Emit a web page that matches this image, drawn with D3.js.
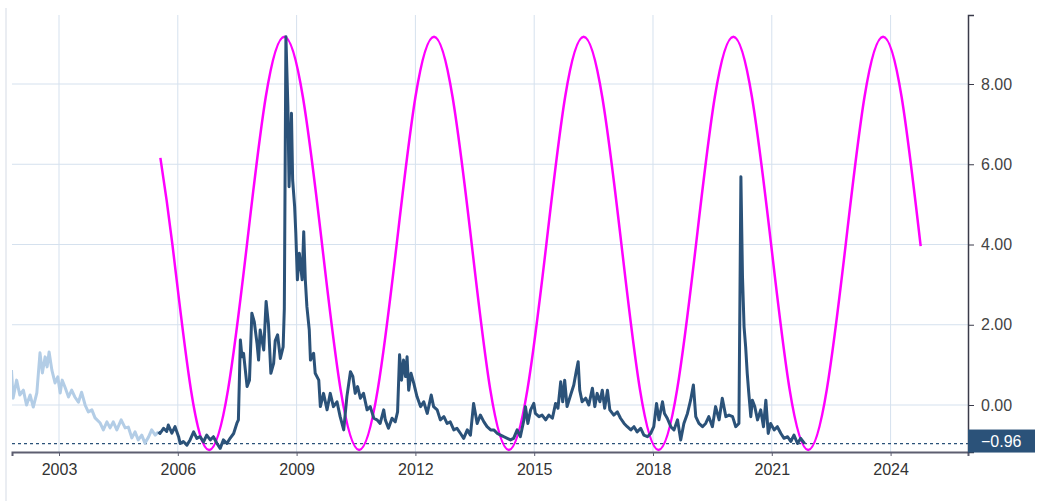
<!DOCTYPE html>
<html>
<head>
<meta charset="utf-8">
<script src="https://cdn.jsdelivr.net/npm/d3@7"></script>
<style>
    body { margin: 0; background: #fff; }
    svg { display: block; font-family: "Liberation Sans", Arial, sans-serif; }
</style>
</head>
<body>
<svg id="chart" width="1037" height="501"></svg>
<script>
var LAST_VALUE = -0.96;

// decimal years, for the x axis
var yearTicks = [2003, 2006, 2009, 2012, 2015, 2018, 2021, 2024];
var valueTicks = [0, 2, 4, 6, 8];

// older part of the index, drawn pale
var earlyDates = [2001.80, 2001.84, 2001.93, 2002.01, 2002.10, 2002.18, 2002.27, 2002.35, 2002.44, 2002.52,
    2002.58, 2002.65, 2002.70, 2002.75, 2002.82, 2002.90, 2002.97, 2003.03, 2003.08, 2003.15,
    2003.24, 2003.32, 2003.40, 2003.49, 2003.57, 2003.66, 2003.74, 2003.83, 2003.91, 2004.04,
    2004.12, 2004.21, 2004.29, 2004.37, 2004.46, 2004.57, 2004.67, 2004.75, 2004.84, 2004.92,
    2005.00, 2005.09, 2005.17, 2005.26, 2005.34, 2005.43, 2005.51];
var earlyValues = [0.87, 0.17, 0.62, 0.25, 0.37, 0.00, 0.25, -0.05, 0.30, 1.30,
    0.80, 1.20, 0.95, 1.32, 0.87, 0.55, 0.70, 0.30, 0.62, 0.45,
    0.20, 0.37, 0.20, 0.07, 0.32, 0.00, -0.17, -0.12, -0.32, -0.45,
    -0.62, -0.42, -0.57, -0.42, -0.62, -0.37, -0.57, -0.55, -0.82, -0.67,
    -0.87, -0.75, -0.95, -0.80, -0.62, -0.75, -0.67];

// main stress index series
var stressDates = [2005.51, 2005.55, 2005.64, 2005.72, 2005.76, 2005.85, 2005.93, 2006.02, 2006.06, 2006.14,
    2006.23, 2006.31, 2006.40, 2006.48, 2006.56, 2006.65, 2006.73, 2006.82, 2006.90, 2006.99,
    2007.07, 2007.15, 2007.24, 2007.32, 2007.41, 2007.49, 2007.53, 2007.58, 2007.62, 2007.66,
    2007.75, 2007.81, 2007.87, 2007.93, 2008.00, 2008.04, 2008.08, 2008.17, 2008.23, 2008.29,
    2008.35, 2008.42, 2008.46, 2008.52, 2008.59, 2008.66, 2008.69, 2008.73, 2008.78, 2008.81,
    2008.87, 2008.90, 2008.95, 2008.98, 2009.02, 2009.07, 2009.14, 2009.18, 2009.22, 2009.26,
    2009.32, 2009.35, 2009.43, 2009.47, 2009.56, 2009.60, 2009.68, 2009.77, 2009.85, 2009.93,
    2010.02, 2010.10, 2010.19, 2010.27, 2010.36, 2010.42, 2010.48, 2010.54, 2010.61, 2010.69,
    2010.78, 2010.86, 2010.95, 2011.03, 2011.11, 2011.20, 2011.24, 2011.32, 2011.41, 2011.49,
    2011.55, 2011.60, 2011.65, 2011.70, 2011.75, 2011.79, 2011.83, 2011.89, 2011.96, 2012.04,
    2012.13, 2012.21, 2012.30, 2012.40, 2012.46, 2012.55, 2012.63, 2012.72, 2012.80, 2012.88,
    2012.97, 2013.05, 2013.14, 2013.22, 2013.31, 2013.39, 2013.47, 2013.56, 2013.64, 2013.73,
    2013.81, 2013.90, 2013.98, 2014.07, 2014.15, 2014.23, 2014.32, 2014.40, 2014.48, 2014.57,
    2014.65, 2014.74, 2014.78, 2014.84, 2014.91, 2014.99, 2015.03, 2015.12, 2015.20, 2015.29,
    2015.37, 2015.46, 2015.54, 2015.60, 2015.67, 2015.72, 2015.77, 2015.83, 2015.92, 2016.00,
    2016.06, 2016.11, 2016.15, 2016.21, 2016.30, 2016.38, 2016.47, 2016.53, 2016.59, 2016.66,
    2016.72, 2016.78, 2016.85, 2016.91, 2017.01, 2017.10, 2017.18, 2017.27, 2017.35, 2017.44,
    2017.52, 2017.60, 2017.69, 2017.77, 2017.86, 2017.94, 2018.02, 2018.09, 2018.15, 2018.24,
    2018.29, 2018.36, 2018.45, 2018.53, 2018.62, 2018.70, 2018.78, 2018.87, 2018.95, 2019.02,
    2019.08, 2019.16, 2019.25, 2019.33, 2019.41, 2019.50, 2019.58, 2019.67, 2019.75, 2019.84,
    2019.92, 2020.01, 2020.09, 2020.17, 2020.22, 2020.26, 2020.30, 2020.34, 2020.38, 2020.42,
    2020.47, 2020.51, 2020.57, 2020.64, 2020.72, 2020.79, 2020.85, 2020.91, 2020.97, 2021.06,
    2021.14, 2021.23, 2021.31, 2021.40, 2021.48, 2021.56, 2021.65, 2021.73, 2021.83];
var stressValues = [-0.67, -0.71, -0.58, -0.66, -0.50, -0.70, -0.54, -0.79, -0.96, -0.91,
    -1.00, -0.87, -0.67, -0.83, -0.79, -0.92, -0.75, -0.87, -0.79, -0.96,
    -1.08, -0.87, -0.96, -0.83, -0.71, -0.46, -0.37, 1.62, 1.20, 1.29,
    0.46, 0.62, 2.29, 2.08, 1.54, 1.12, 1.87, 1.37, 2.58, 2.00,
    0.79, 1.04, 1.60, 1.75, 1.16, 1.45, 2.40, 9.18, 7.44, 5.44,
    7.27, 5.61, 4.95, 4.28, 3.12, 3.78, 3.12, 4.32, 3.12, 2.45,
    1.87, 1.12, 1.29, 0.79, 0.62, -0.04, 0.29, -0.12, 0.29, -0.04,
    0.08, -0.29, -0.62, 0.21, 0.83, 0.71, 0.29, 0.46, 0.17, 0.29,
    -0.12, -0.04, -0.33, -0.37, -0.46, -0.12, -0.37, -0.58, -0.33, -0.42,
    -0.17, 1.25, 0.62, 1.12, 0.71, 1.20, 0.37, 0.79, 0.54, 0.21,
    -0.04, 0.08, -0.21, 0.25, -0.04, -0.12, -0.37, -0.29, -0.46, -0.42,
    -0.62, -0.58, -0.71, -0.83, -0.62, -0.75, 0.04, -0.46, -0.25, -0.42,
    -0.54, -0.62, -0.62, -0.71, -0.75, -0.79, -0.83, -0.87, -0.83, -0.62,
    -0.79, -0.37, -0.04, -0.46, -0.12, 0.04, -0.21, -0.29, -0.25, -0.37,
    -0.25, -0.33, 0.04, -0.08, 0.58, 0.08, 0.62, -0.04, 0.25, 0.50,
    0.83, 1.08, 0.37, 0.08, 0.17, 0.00, 0.42, -0.04, 0.29, 0.08,
    0.37, -0.08, 0.37, -0.12, -0.25, -0.17, -0.33, -0.46, -0.54, -0.62,
    -0.54, -0.67, -0.58, -0.75, -0.79, -0.71, -0.54, 0.04, -0.37, 0.08,
    -0.21, -0.33, -0.54, -0.62, -0.37, -0.87, -0.46, -0.21, 0.12, 0.50,
    -0.29, -0.46, -0.54, -0.46, -0.29, -0.54, -0.04, -0.37, 0.17, -0.29,
    -0.25, -0.29, -0.54, -0.46, 5.69, 3.20, 1.95, 1.45, 0.79, 0.29,
    -0.29, 0.12, -0.04, -0.37, -0.12, -0.54, 0.12, -0.71, -0.46, -0.62,
    -0.54, -0.71, -0.83, -0.79, -0.91, -0.75, -0.96, -0.83, -0.96];

// magenta cycle overlay, read at peaks, troughs and points in between
var cycleDates = [2005.56, 2005.86, 2006.33, 2006.80, 2007.27, 2007.75, 2008.22, 2008.69, 2009.16, 2009.64,
    2010.11, 2010.58, 2011.05, 2011.53, 2012.00, 2012.47, 2012.94, 2013.42, 2013.89, 2014.36,
    2014.83, 2015.31, 2015.78, 2016.25, 2016.72, 2017.20, 2017.67, 2018.14, 2018.61, 2019.09,
    2019.56, 2020.03, 2020.50, 2020.98, 2021.45, 2021.92, 2022.39, 2022.87, 2023.34, 2023.81,
    2024.28, 2024.76];
var cycleValues = [6.16, 4.03, 0.39, -1.12, 0.39, 4.03, 7.67, 9.18, 7.67, 4.03,
    0.39, -1.12, 0.39, 4.03, 7.67, 9.18, 7.67, 4.03, 0.39, -1.12,
    0.39, 4.03, 7.67, 9.18, 7.67, 4.03, 0.39, -1.12, 0.39, 4.03,
    7.67, 9.18, 7.67, 4.03, 0.39, -1.12, 0.39, 4.03, 7.67, 9.18,
    7.67, 3.96];

var DARK = "#2b5279";
var PALE = "#b3cde6";
var GRID = "#d5e1ee";

function zip(xs, ys) {
    return xs.map((x, i) => ({x: x, y: ys[i]}));
}

function drawGrid(g, x, y, left, right, top, bottom) {
    g.append("g").selectAll("line")
        .data(yearTicks).enter().append("line")
        .attr("x1", d => x(d)).attr("x2", d => x(d))
        .attr("y1", top).attr("y2", bottom)
        .attr("stroke", GRID).attr("stroke-width", 1);

    g.append("g").selectAll("line")
        .data(valueTicks).enter().append("line")
        .attr("x1", left).attr("x2", right)
        .attr("y1", d => y(d)).attr("y2", d => y(d))
        .attr("stroke", GRID).attr("stroke-width", 1);
}

function drawAxes(svg, x, y, right, bottom) {
    let xAxis = svg.append("g")
        .attr("transform", "translate(0," + bottom + ")")
        .call(d3.axisBottom(x).tickValues(yearTicks).tickFormat(d3.format("d")).tickSize(4).tickPadding(8));
    xAxis.select(".domain").attr("stroke", "#5d5e70").attr("stroke-width", 2);
    xAxis.selectAll(".tick line").attr("stroke", "#5d5e70");
    xAxis.selectAll("text").attr("fill", "#333").style("font-size", "16px");

    let yAxis = svg.append("g")
        .attr("transform", "translate(" + right + ",0)")
        .call(d3.axisRight(y).tickValues(valueTicks).tickFormat(d3.format(".2f")).tickSize(6).tickPadding(7));
    yAxis.select(".domain").attr("stroke", "#3a3b4a").attr("stroke-width", 1.5);
    yAxis.selectAll(".tick line").attr("stroke", "#3a3b4a");
    yAxis.selectAll("text").attr("fill", "#444").style("font-size", "16px");
}

document.addEventListener("DOMContentLoaded", () => {
    let svg = d3.select("#chart");
    let left = 12, right = 968, top = 15, bottom = 452;

    let x = d3.scaleLinear().domain([2001.813, 2025.955]).range([left, right]);
    let y = d3.scaleLinear().domain([-1.171, 9.72]).range([bottom, top]);

    // faint frame line at the far left
    svg.append("line")
        .attr("x1", 6).attr("x2", 6).attr("y1", 8).attr("y2", 501)
        .attr("stroke", "#e3e7ee").attr("stroke-width", 1.5);

    drawGrid(svg, x, y, left, right, top, bottom);

    svg.append("clipPath").attr("id", "plot-clip")
        .append("rect").attr("x", left).attr("y", top)
        .attr("width", right - left).attr("height", bottom - top);

    let plot = svg.append("g").attr("clip-path", "url(#plot-clip)");

    // dotted line at the latest value
    plot.append("line")
        .attr("x1", left).attr("x2", right)
        .attr("y1", y(LAST_VALUE)).attr("y2", y(LAST_VALUE))
        .attr("stroke", DARK).attr("stroke-width", 1.2)
        .attr("stroke-dasharray", "3,3");

    let line = d3.line().x(d => x(d.x)).y(d => y(d.y));

    plot.append("path")
        .datum(zip(earlyDates, earlyValues))
        .attr("d", line)
        .attr("fill", "none").attr("stroke", PALE)
        .attr("stroke-width", 3).attr("stroke-linejoin", "round");

    plot.append("path")
        .datum(zip(cycleDates, cycleValues))
        .attr("d", line.curve(d3.curveNatural))
        .attr("fill", "none").attr("stroke", "#ff00ff")
        .attr("stroke-width", 2.5);

    line.curve(d3.curveLinear);
    plot.append("path")
        .datum(zip(stressDates, stressValues))
        .attr("d", line)
        .attr("fill", "none").attr("stroke", DARK)
        .attr("stroke-width", 3).attr("stroke-linejoin", "round");

    drawAxes(svg, x, y, right, bottom);

    // last value badge on the right axis
    let badge = svg.append("g");
    badge.append("rect")
        .attr("x", right).attr("y", y(LAST_VALUE) - 14)
        .attr("width", 1035 - right).attr("height", 23)
        .attr("fill", DARK);
    badge.append("text")
        .attr("x", right + 13).attr("y", y(LAST_VALUE) - 2.5)
        .attr("dy", "0.35em")
        .attr("fill", "#fff").style("font-size", "16px")
        .text("\u22120.96");
});
</script>
</body>
</html>
